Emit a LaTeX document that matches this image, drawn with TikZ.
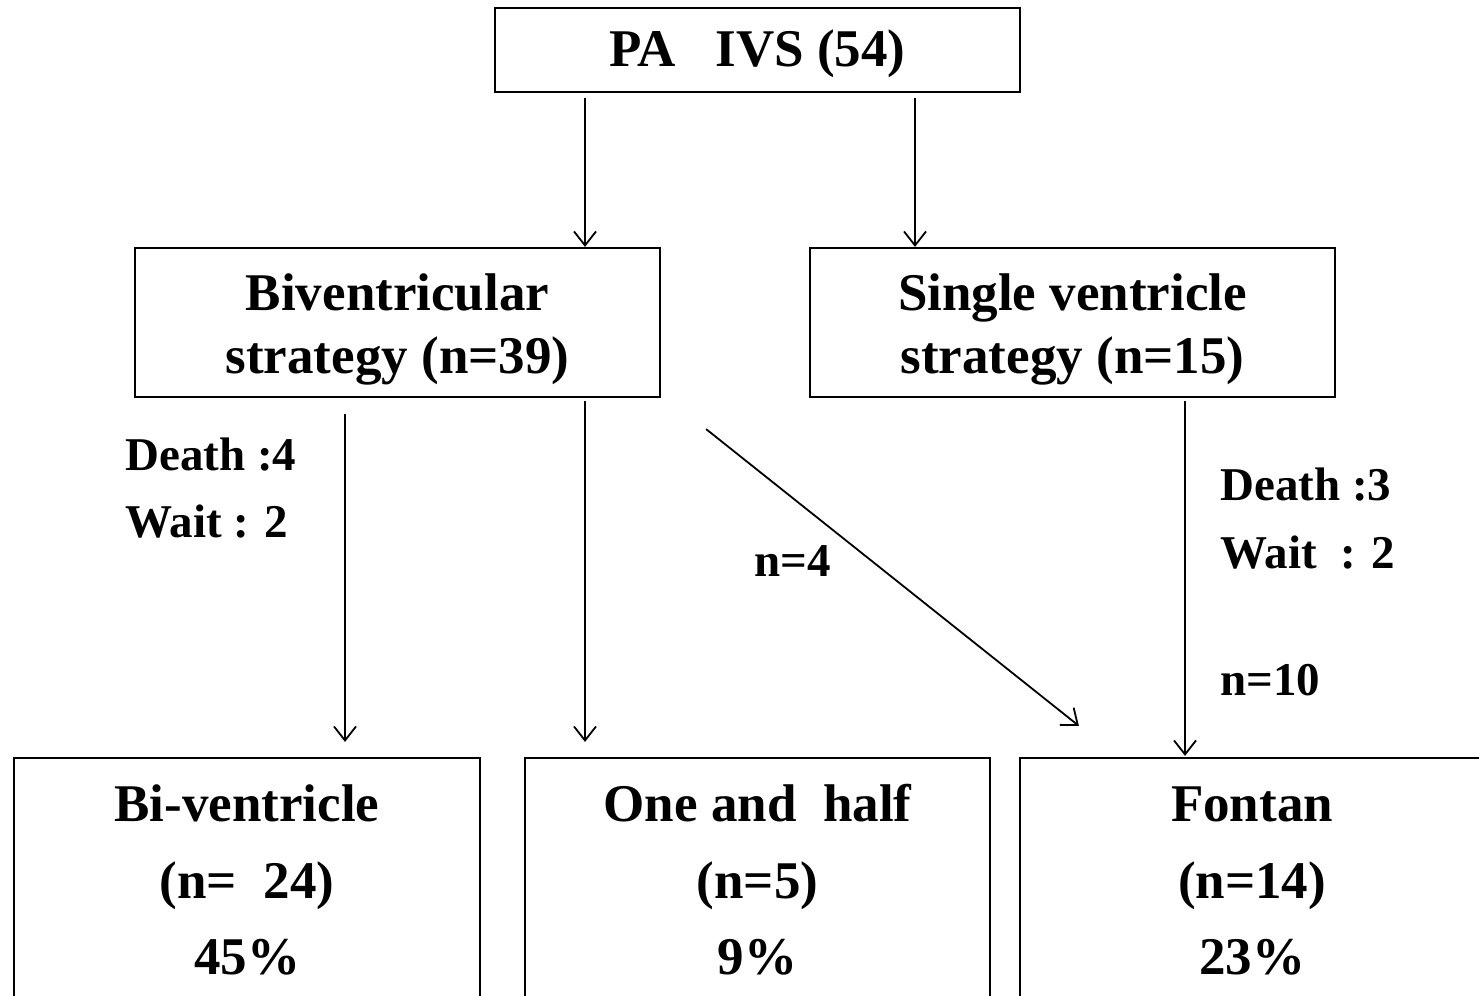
\documentclass[tikz,border=0pt]{standalone}
\usepackage{fontspec}
\setmainfont{Liberation Serif}
\usetikzlibrary{arrows.meta}
\begin{document}
\begin{tikzpicture}[x=1pt,y=-1pt,
  box/.style={draw,line width=2.2pt,inner sep=0pt},
  boxtxt/.style={font=\fontsize{53}{64}\selectfont\bfseries,inner sep=0pt,anchor=base},
  lbl/.style={font=\fontsize{47}{56}\selectfont\bfseries,inner sep=0pt,anchor=base west},
  arr/.style={line width=1.8pt,-{Straight Barb[length=14pt,width=22pt,line width=1.8pt]}}]
\useasboundingbox (0,0) rectangle (1479,995);
\clip (0,0) rectangle (1479,995);

% boxes
\node[box,minimum width=525pt,minimum height=84pt]  (top) at (757.5,50) {};
\node[box,minimum width=525pt,minimum height=149pt] (biv) at (397.5,322.5) {};
\node[box,minimum width=525pt,minimum height=149pt] (sv)  at (1072.5,322.5) {};
\node[box,minimum width=466pt,minimum height=262pt] (bv)  at (247,889) {};
\node[box,minimum width=465pt,minimum height=262pt] (oh)  at (757.5,889) {};
\node[box,minimum width=464pt,minimum height=262pt] (fo)  at (1252,889) {};

% box texts
\node[boxtxt] (topT)  at (757.5,67)  {PA\ \ \ IVS (54)};
\node[boxtxt] (bivT1) at (397.5,310) {Biventricular};
\node[boxtxt] (bivT2) at (397.5,373) {strategy (n=39)};
\node[boxtxt] (svT1)  at (1072.5,310) {Single ventricle};
\node[boxtxt] (svT2)  at (1072.5,373) {strategy (n=15)};
\node[boxtxt] (bvT1)  at (247,821) {Bi-ventricle};
\node[boxtxt] (bvT2)  at (247,898) {(n=\ \ 24)};
\node[boxtxt] (bvT3)  at (247,974) {45\%};
\node[boxtxt] (ohT1)  at (757.5,821) {One and\ \ half};
\node[boxtxt] (ohT2)  at (757.5,898) {(n=5)};
\node[boxtxt] (ohT3)  at (757.5,974) {9\%};
\node[boxtxt] (foT1)  at (1252,821) {Fontan};
\node[boxtxt] (foT2)  at (1252,898) {(n=14)};
\node[boxtxt] (foT3)  at (1252,974) {23\%};

% side labels
\node[lbl] (d4)  at (125,470) {Death :4};
\node[lbl] (w2a) at (125,537) {Wait : 2};
\node[lbl] (d3)  at (1220,500) {Death :3};
\node[lbl] (w2b) at (1220,568) {Wait\ \ : 2};
\node[lbl] (n10) at (1220,695) {n=10};
\node[lbl] (n4)  at (754,576) {n=4};

% connectors
\draw[arr] ([xshift=-172.5pt,yshift=-5pt]top.south) -- ([xshift=187.5pt]biv.north);
\draw[arr] ([xshift=157.5pt,yshift=-5pt]top.south) -- ([xshift=-157.5pt]sv.north);
\draw[arr] ([xshift=-52.5pt,yshift=-16pt]biv.south) -- ([xshift=98pt,yshift=15pt]bv.north);
\draw[arr] ([xshift=187.5pt,yshift=-3pt]biv.south) -- ([xshift=-172.5pt,yshift=15pt]oh.north);
\draw[arr] ([xshift=45pt,yshift=-31pt]biv.south east) -- ([xshift=60pt,yshift=31pt]fo.north west);
\draw[arr] ([xshift=112.5pt,yshift=-3pt]sv.south) -- ([xshift=-67pt,yshift=1pt]fo.north);
\end{tikzpicture}
\end{document}
